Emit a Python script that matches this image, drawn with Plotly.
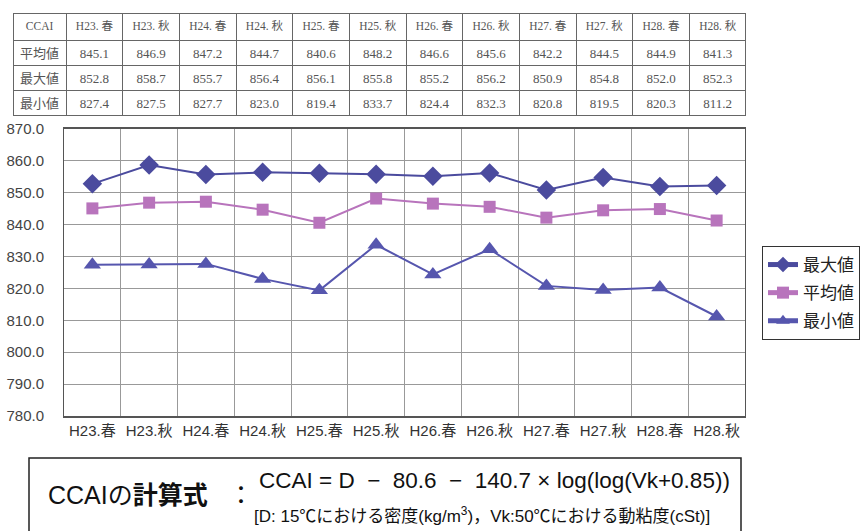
import plotly.graph_objects as go

W, H = 862, 531

categories = ["H23.春", "H23.秋", "H24.春", "H24.秋", "H25.春", "H25.秋",
              "H26.春", "H26.秋", "H27.春", "H27.秋", "H28.春", "H28.秋"]
avg_vals = [845.1, 846.9, 847.2, 844.7, 840.6, 848.2, 846.6, 845.6, 842.2, 844.5, 844.9, 841.3]
max_vals = [852.8, 858.7, 855.7, 856.4, 856.1, 855.8, 855.2, 856.2, 850.9, 854.8, 852.0, 852.3]
min_vals = [827.4, 827.5, 827.7, 823.0, 819.4, 833.7, 824.4, 832.3, 820.8, 819.5, 820.3, 811.2]
table_header = ["CCAI"] + [c.replace(".", ". ") for c in categories]
row_labels = ["平均値", "最大値", "最小値"]

def px(x):
    return x / W

def py(y):
    return 1 - y / H

fig = go.Figure()

# table
cols = [row_labels] + [[f"{a:.1f}", f"{m:.1f}", f"{n:.1f}"] for a, m, n in zip(avg_vals, max_vals, min_vals)]
fig.add_trace(go.Table(
    domain=dict(x=[px(13), px(746)], y=[py(116), py(13)]),
    columnwidth=[53] + [56.6] * 12,
    header=dict(values=table_header, height=27, align="center",
                fill_color="white", line=dict(color="#666", width=1),
                font=dict(family="Liberation Serif, Noto Sans CJK JP", size=11.5, color="#555")),
    cells=dict(values=cols, height=25, align="center",
               fill_color="white", line=dict(color="#666", width=1),
               font=dict(family="Liberation Serif, Noto Sans CJK JP", size=13, color="#555")),
))

fig.add_trace(go.Scatter(
    x=categories, y=max_vals, name="最大値", mode="lines+markers", legendgroup="a",
    line=dict(color="#4B4B9E", width=2),
    marker=dict(symbol="diamond", size=15, color="#4B4B9E"),
))
fig.add_trace(go.Scatter(
    x=categories, y=avg_vals, name="平均値", mode="lines+markers", legendgroup="b",
    line=dict(color="#B874BC", width=2),
    marker=dict(symbol="square", size=12, color="#B874BC"),
))
fig.add_trace(go.Scatter(
    x=categories, y=min_vals, name="最小値", mode="lines+markers", legendgroup="c",
    line=dict(color="#5656AE", width=2),
    marker=dict(symbol="triangle-up", size=15, color="#5656AE"),
))

fig.update_layout(
    width=W, height=H,
    margin=dict(l=0, r=0, t=0, b=0),
    paper_bgcolor="white", plot_bgcolor="white",
    font=dict(family="Liberation Sans, Noto Sans CJK JP", color="#333"),
    xaxis=dict(
        domain=[px(64), px(745)], type="category", tickson="boundaries",
        range=[-0.5, 11.5], showgrid=True, gridcolor="#999", gridwidth=1,
        showline=True, linecolor="#555", linewidth=2, mirror=True,
        ticks="", tickangle=0, tickfont=dict(size=15, color="#333"), automargin=False,
    ),
    yaxis=dict(
        domain=[py(416), py(129)], range=[780, 870], dtick=10, tickformat=".1f",
        showgrid=True, gridcolor="#999", gridwidth=1,
        showline=True, linecolor="#555", linewidth=1, mirror=True,
        ticks="", tickfont=dict(size=15, color="#444"), automargin=False,
        ticklabelstandoff=16, zeroline=False,
    ),
    legend=dict(
        x=px(762), y=py(246), xanchor="left", yanchor="top",
        bordercolor="#333", borderwidth=1, bgcolor="white",
        font=dict(size=17, color="#222", family="Noto Sans CJK JP"),
        itemwidth=30, tracegroupgap=3, itemsizing="constant",
    ),
    showlegend=True,
)

fig.add_shape(type="rect", xref="paper", yref="paper",
              x0=px(29), x1=px(741), y0=py(458), y1=py(545),
              line=dict(color="#222", width=1.5), fillcolor="rgba(0,0,0,0)")
fig.add_annotation(xref="paper", yref="paper", x=px(46), y=py(495), xanchor="left", yanchor="middle",
                   text="CCAIの<b>計算式</b>   ：", showarrow=False,
                   font=dict(size=25, color="#111", family="Liberation Sans, Noto Sans CJK JP"))
fig.add_annotation(xref="paper", yref="paper", x=px(257), y=py(480), xanchor="left", yanchor="middle",
                   text="CCAI = D  −  80.6  −  140.7 × log(log(Vk+0.85))", showarrow=False,
                   font=dict(size=22.5, color="#111", family="Liberation Sans, Noto Sans CJK JP"))
fig.add_annotation(xref="paper", yref="paper", x=px(252), y=py(515), xanchor="left", yanchor="middle",
                   text="[D: 15℃における密度(kg/m<sup>3</sup>)，Vk:50℃における動粘度(cSt)]", showarrow=False,
                   font=dict(size=17, color="#111", family="Liberation Sans, Noto Sans CJK JP"))

fig.write_html("out.html", config={"displayModeBar": False},
               post_script="document.body.style.margin='0px';document.body.style.overflow='hidden';")
